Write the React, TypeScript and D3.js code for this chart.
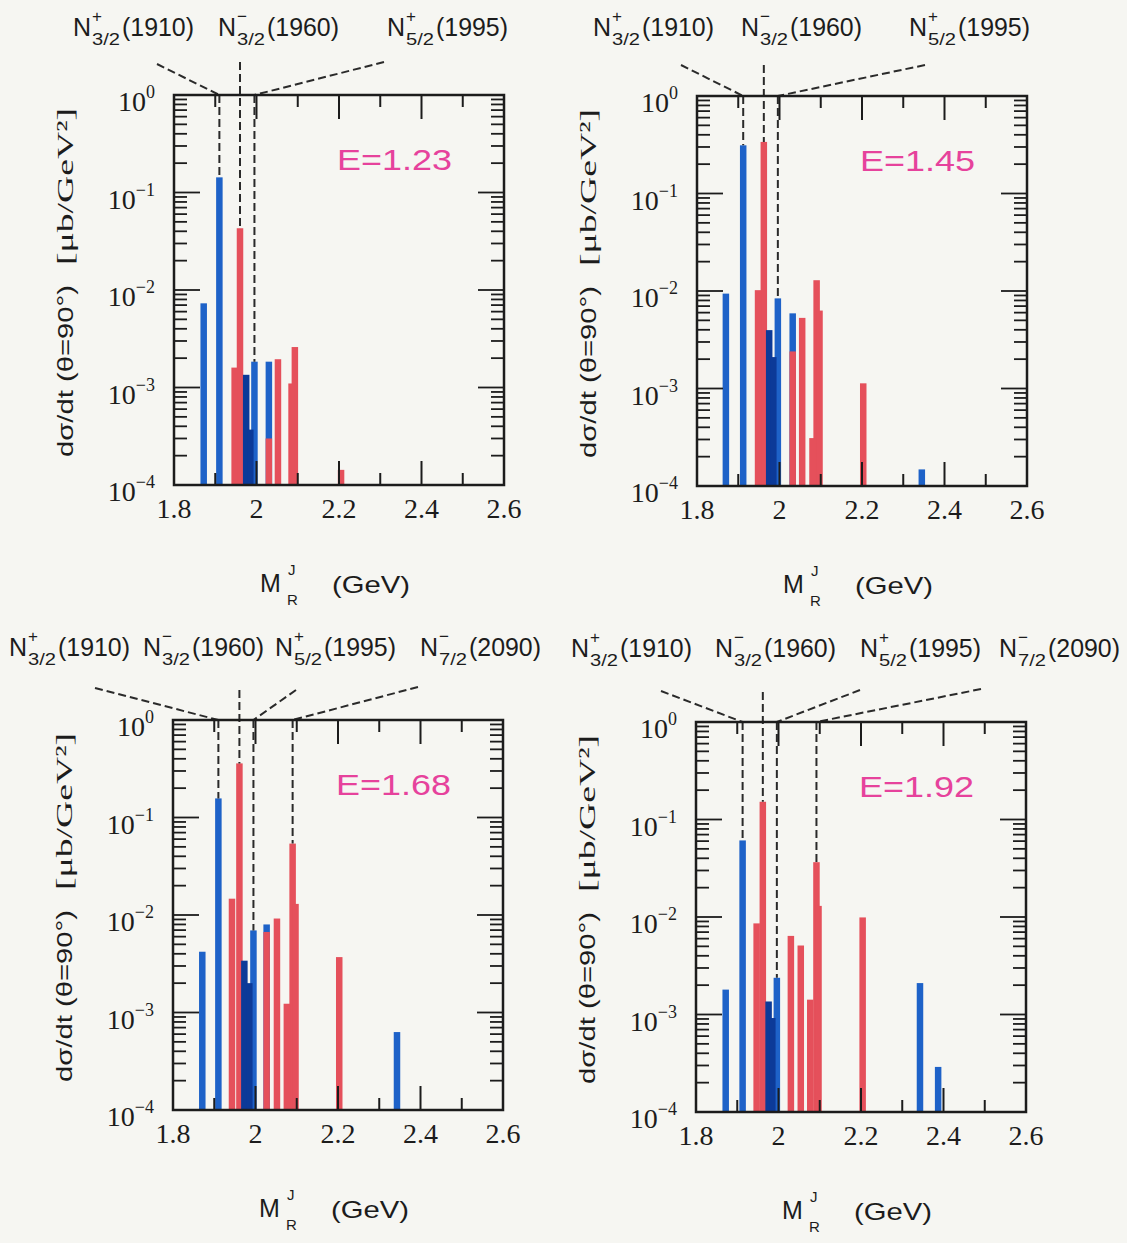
import React from 'react';
import * as d3 from 'd3';

type Bar = [number, number];

// ---- data: [mass (GeV), dσ/dt (μb/GeV²)] ----
// E = 1.23
const blueE123: Bar[] = [[1.872, 7.3e-3], [1.91, 0.143], [1.995, 1.84e-3], [2.03, 1.84e-3]];
const redE123: Bar[] = [[1.947, 1.6e-3], [1.96, 4.3e-2], [2.03, 3.0e-4], [2.052, 1.95e-3], [2.085, 1.1e-3], [2.093, 2.6e-3], [2.205, 1.43e-4]];
const navyE123: Bar[] = [[1.975, 1.35e-3], [1.985, 3.7e-4]];
// E = 1.45
const blueE145: Bar[] = [[1.87, 9.4e-3], [1.912, 0.312], [1.996, 8.4e-3], [2.032, 5.9e-3], [2.345, 1.48e-4]];
const redE145: Bar[] = [[1.948, 1.02e-2], [1.962, 0.338], [2.032, 2.4e-3], [2.055, 5.3e-3], [2.08, 3.1e-4], [2.09, 1.29e-2], [2.097, 6.3e-3], [2.203, 1.13e-3]];
const navyE145: Bar[] = [[1.975, 3.97e-3], [1.985, 2.1e-3]];
// E = 1.68
const blueE168: Bar[] = [[1.871, 4.2e-3], [1.91, 0.157], [1.995, 6.95e-3], [2.027, 8.0e-3], [2.343, 6.3e-4]];
const redE168: Bar[] = [[1.943, 1.47e-2], [1.961, 0.359], [2.027, 6.7e-3], [2.052, 9.2e-3], [2.076, 1.23e-3], [2.09, 5.4e-2], [2.097, 1.3e-2], [2.203, 3.7e-3]];
const navyE168: Bar[] = [[1.973, 3.4e-3], [1.985, 2.0e-3]];
// E = 1.92
const blueE192: Bar[] = [[1.872, 1.8e-3], [1.913, 6.1e-2], [1.996, 2.38e-3], [2.343, 2.1e-3], [2.387, 2.9e-4]];
const redE192: Bar[] = [[1.947, 8.6e-3], [1.962, 0.152], [2.03, 6.4e-3], [2.054, 5.1e-3], [2.077, 1.42e-3], [2.092, 3.65e-2], [2.097, 1.3e-2], [2.204, 9.9e-3]];
const navyE192: Bar[] = [[1.976, 1.36e-3], [1.985, 9.2e-4]];

const energyLabels = ['E=1.23', 'E=1.45', 'E=1.68', 'E=1.92'];
const resonanceSup = ['+', '−', '+', '−'];
const resonanceSub = ['3/2', '3/2', '5/2', '7/2'];
const resonanceMassLabel = ['(1910)', '(1960)', '(1995)', '(2090)'];
const resonanceMass = [1.91, 1.96, 1.995, 2.09];
const xTickValues = [1.8, 2.0, 2.2, 2.4, 2.6];
const xTickLabels = ['1.8', '2', '2.2', '2.4', '2.6'];
const yTickExponents = [0, -1, -2, -3, -4];

const panelData = [
  { blue: blueE123, red: redE123, navy: navyE123 },
  { blue: blueE145, red: redE145, navy: navyE145 },
  { blue: blueE168, red: redE168, navy: navyE168 },
  { blue: blueE192, red: redE192, navy: navyE192 },
];

// ---- layout ----
const layouts = [
  { left: 174, top: 95, nRes: 3, labelX: [73, 218, 387], labelY: 36, starts: [[157, 64], [0, 62], [384, 62]] },
  { left: 697, top: 96, nRes: 3, labelX: [593, 741, 909], labelY: 36, starts: [[681, 65], [0, 65], [925, 65]] },
  { left: 173, top: 720, nRes: 4, labelX: [9, 143, 275, 420], labelY: 656, starts: [[95, 688], [0, 690], [296, 690], [418, 687]] },
  { left: 696, top: 722, nRes: 4, labelX: [571, 715, 860, 999], labelY: 657, starts: [[661, 691], [0, 692], [860, 690], [981, 689]] },
];

const W = 330, H = 390;
const BLUE = '#1e62c8', RED = '#e5505b', NAVY = '#0c3a98', INK = '#1c1c1c', MAGENTA = '#e6429c';
const SANS = '"Liberation Sans", Arial, Helvetica, sans-serif';
const SERIF = '"Liberation Serif", "Times New Roman", serif';

function Panel({ idx }: { idx: number }) {
  const L = layouts[idx];
  const D = panelData[idx];
  const x = d3.scaleLinear().domain([1.8, 2.6]).range([L.left, L.left + W]);
  const y = d3.scaleLog().domain([1e-4, 1]).range([L.top + H, L.top]);
  const bottom = L.top + H;
  const right = L.left + W;

  const bars = [
    ...D.blue.map(d => ({ m: d[0], v: d[1], c: BLUE })),
    ...D.red.map(d => ({ m: d[0], v: d[1], c: RED })),
    ...D.navy.map(d => ({ m: d[0], v: d[1], c: NAVY })),
  ].sort((a, b) => b.v - a.v);
  const bw = 6.5;

  const xt = x.ticks(8);
  const isXMajor = (t: number) => Math.round(t * 10) % 2 === 0;
  const yt = y.ticks();
  const isYMajor = (t: number) => Math.abs(Math.log10(t) - Math.round(Math.log10(t))) < 1e-6;

  const resLines = d3.range(L.nRes).map(k => {
    const mr = resonanceMass[k];
    const near = bars.filter(b => Math.abs(b.m - mr) < 0.008);
    const best = near.reduce((a, b) => (b.v > a.v ? b : a), near[0]);
    const xr = x(best ? best.m : mr);
    const yb = y(best ? best.v : 1e-4);
    return { k, xr, yb };
  });

  const dash = '8 4';
  return (
    <g>
      {bars.map((b, i) => (
        <rect key={i} x={x(b.m) - bw / 2} y={y(b.v)} width={bw} height={bottom - y(b.v)} fill={b.c} />
      ))}
      {resLines.map(({ k, xr, yb }) => {
        const s = L.starts[k];
        if (k === 1) {
          return <line key={k} x1={xr} y1={s[1]} x2={xr} y2={yb} stroke="#2a2a2a" strokeWidth={2} strokeDasharray={dash} />;
        }
        return (
          <g key={k}>
            <line x1={s[0]} y1={s[1]} x2={xr} y2={L.top} stroke="#2a2a2a" strokeWidth={2} strokeDasharray={dash} />
            <line x1={xr} y1={L.top} x2={xr} y2={yb} stroke="#2a2a2a" strokeWidth={2} strokeDasharray={dash} />
          </g>
        );
      })}
      {d3.range(L.nRes).map(k => {
        const x0 = L.labelX[k], b = L.labelY;
        return (
          <g key={k} fill={INK} fontFamily={SANS}>
            <text x={x0} y={b} fontSize={25}>N</text>
            <text x={x0 + 19} y={b - 14} fontSize={17}>{resonanceSup[k]}</text>
            <text x={x0 + 19} y={b + 9} fontSize={17} textLength={28} lengthAdjust="spacingAndGlyphs">{resonanceSub[k]}</text>
            <text x={x0 + 49} y={b} fontSize={25} textLength={72} lengthAdjust="spacingAndGlyphs">{resonanceMassLabel[k]}</text>
          </g>
        );
      })}
      {xt.map((t, i) => {
        const len = isXMajor(t) ? 24 : 12;
        return (
          <g key={i} stroke={INK} strokeWidth={2}>
            <line x1={x(t)} x2={x(t)} y1={bottom} y2={bottom - len} />
            <line x1={x(t)} x2={x(t)} y1={L.top} y2={L.top + len} />
          </g>
        );
      })}
      {yt.map((t, i) => {
        const len = isYMajor(t) ? 26 : 13;
        return (
          <g key={i} stroke={INK} strokeWidth={1.8}>
            <line x1={L.left} x2={L.left + len} y1={y(t)} y2={y(t)} />
            <line x1={right} x2={right - len} y1={y(t)} y2={y(t)} />
          </g>
        );
      })}
      <rect x={L.left} y={L.top} width={W} height={H} fill="none" stroke={INK} strokeWidth={2.5} />
      {xTickValues.map((t, i) => (
        <text key={i} x={x(t)} y={bottom + 33} textAnchor="middle" fontFamily={SERIF} fontSize={28} fill={INK}>
          {xTickLabels[i]}
        </text>
      ))}
      {yTickExponents.map((e, i) => (
        <text key={i} x={L.left - 19} y={y(Math.pow(10, e)) + 16} textAnchor="end" fontFamily={SERIF} fontSize={28} fill={INK}>
          <tspan>10</tspan>
          <tspan dy={-13} fontSize={18}>{e === 0 ? '0' : '−' + -e}</tspan>
        </text>
      ))}
      <text x={L.left + 163} y={L.top + 75} fontFamily={SANS} fontSize={30} fill={MAGENTA} textLength={115} lengthAdjust="spacingAndGlyphs">
        {energyLabels[idx]}
      </text>
      <g transform={`translate(${L.left - 101},0) rotate(-90)`} fill={INK}>
        <text x={-(L.top + 362)} y={0} fontFamily={SANS} fontSize={22} textLength={172} lengthAdjust="spacingAndGlyphs">dσ/dt (θ=90°)</text>
        <text x={-(L.top + 170)} y={0} fontFamily={SERIF} fontSize={23} textLength={157} lengthAdjust="spacingAndGlyphs">[μb/GeV²]</text>
      </g>
      <g fill={INK} fontFamily={SANS}>
        <text x={L.left + 86} y={bottom + 107} fontSize={25}>M</text>
        <text x={L.left + 114} y={bottom + 90} fontSize={15}>J</text>
        <text x={L.left + 113} y={bottom + 120} fontSize={15}>R</text>
        <text x={L.left + 158} y={bottom + 108} fontSize={24} textLength={78} lengthAdjust="spacingAndGlyphs">(GeV)</text>
      </g>
    </g>
  );
}

export default function App() {
  return (
    <svg width={1127} height={1243} style={{ position: 'absolute', left: 0, top: 0, display: 'block' }}>
      <rect x={0} y={0} width={1127} height={1243} fill="#f6f6f2" />
      {layouts.map((_, i) => <Panel key={i} idx={i} />)}
    </svg>
  );
}
